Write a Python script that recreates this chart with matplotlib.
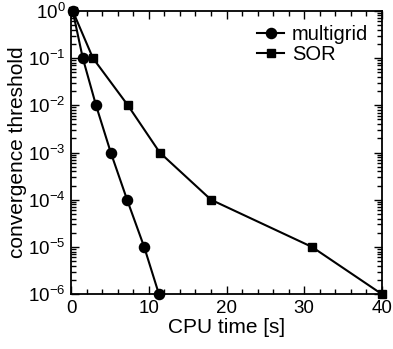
import numpy as np
import matplotlib
matplotlib.use("Agg")
import matplotlib.pyplot as plt
from matplotlib.ticker import MultipleLocator, LogLocator, NullFormatter

plt.rcParams["font.family"] = ["Liberation Sans", "DejaVu Sans"]
plt.rcParams["mathtext.fontset"] = "custom"
plt.rcParams["mathtext.rm"] = "Liberation Sans"
plt.rcParams["mathtext.default"] = "regular"

# convergence threshold reached vs CPU time
threshold = [1e0, 1e-1, 1e-2, 1e-3, 1e-4, 1e-5, 1e-6]
mg_time = [0.2, 1.5, 3.2, 5.1, 7.2, 9.4, 11.3]
sor_time = [0.2, 2.8, 7.3, 11.4, 18.0, 31.0, 40.0]

fig = plt.figure(figsize=(3.93, 3.49), dpi=100)
ax = fig.add_axes([0.181, 0.157, 0.791, 0.812])

ax.plot(mg_time, threshold, "-o", color="black", lw=1.5, ms=7.3, label="multigrid", clip_on=False, zorder=5)
ax.plot(sor_time, threshold, "-s", color="black", lw=1.5, ms=5.8, label="SOR", clip_on=False, zorder=5)

ax.set_yscale("log")
ax.set_xlim(0, 40)
ax.set_ylim(1e-6, 1e0)
ax.xaxis.set_major_locator(MultipleLocator(10))
ax.xaxis.set_minor_locator(MultipleLocator(2))
ax.yaxis.set_major_locator(LogLocator(base=10, numticks=10))
ax.yaxis.set_minor_locator(LogLocator(base=10, subs=np.arange(2, 10), numticks=10))
ax.yaxis.set_minor_formatter(NullFormatter())

ax.tick_params(which="both", direction="in", top=True, right=True, width=1.0)
ax.tick_params(which="major", length=6, labelsize=13.5, pad=4)
ax.tick_params(which="minor", length=3.5)
for s in ax.spines.values():
    s.set_linewidth(1.3)

ax.set_xlabel("CPU time [s]", fontsize=15, labelpad=1)
ax.set_ylabel("convergence threshold", fontsize=15, labelpad=1)

ax.legend(loc="upper right", frameon=False, fontsize=14.5, handlelength=1.3,
          handletextpad=0.4, labelspacing=0.05, borderaxespad=0.3)

fig.savefig("out.png", dpi=100)
